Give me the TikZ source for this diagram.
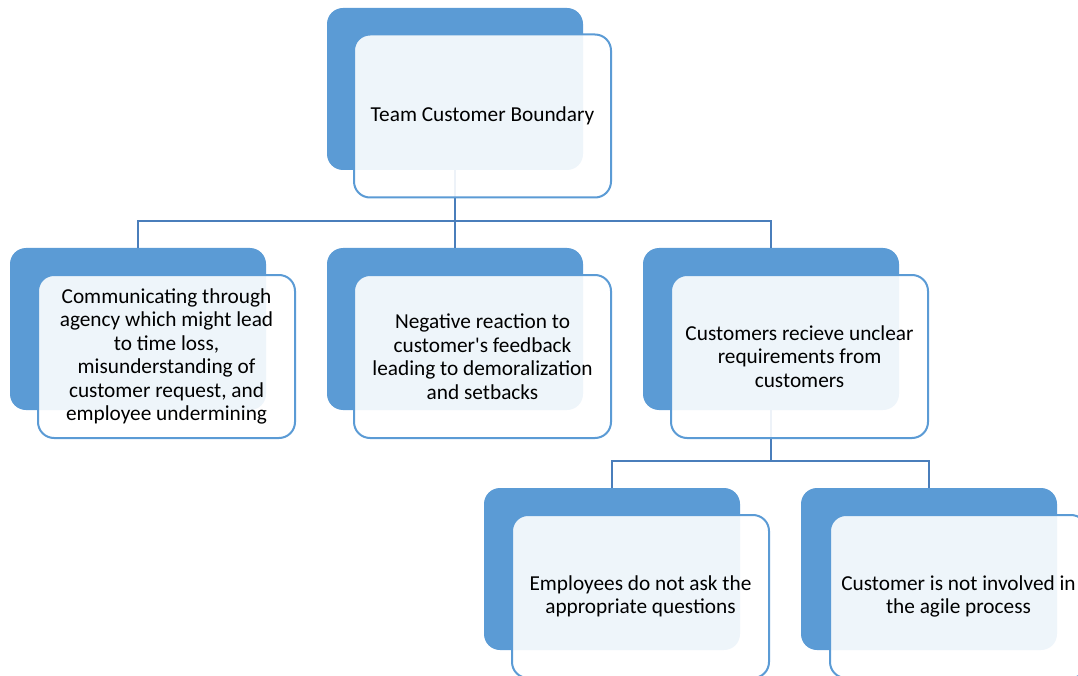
\documentclass[tikz,border=0pt]{standalone}
\usepackage{fontspec}
\setmainfont{Carlito}[Ligatures=TeXOff]
\definecolor{accent}{HTML}{5B9BD5}
\definecolor{connc}{HTML}{4A7EBB}
\begin{document}
\begin{tikzpicture}[x=1pt,y=-1pt,
  darkbox/.style={draw=none, fill=accent, rounded corners=16pt, minimum width=256pt, minimum height=162pt, inner sep=0pt},
  lightbox/.style={draw=accent, line width=2pt, fill=white, fill opacity=0.9, text opacity=1, rounded corners=16pt, minimum width=257pt, minimum height=163pt, align=center, font=\fontsize{21.3}{23.5}\selectfont, text=black},
  connector/.style={draw=connc, line width=2.2pt}]
\useasboundingbox (0,0) rectangle (1078,676);
\clip (0,0) rectangle (1078,676);
% dark back boxes
\node[darkbox] (d0) at (455,89) {};
\node[darkbox] (d1) at (138,329) {};
\node[darkbox] (d2) at (455,329) {};
\node[darkbox] (d3) at (771,329) {};
\node[darkbox] (d4) at (612,569) {};
\node[darkbox] (d5) at (929,569) {};
% connectors
\coordinate (j0) at (455,221);
\coordinate (j1) at (771,461);
\draw[connector] (d0.south) -- (d2.north);
\draw[connector] (d1.north) |- (j0) -| (d3.north);
\draw[connector] (d3.south) -- (j1);
\draw[connector] (d4.north) |- (j1) -| (d5.north);
% light front boxes
\node[lightbox] (l0) at (482.5,116) {Team Customer Boundary};
\node[lightbox] (l1) at (166.5,356.5) {Communicating through\\agency which might lead\\to time loss,\\misunderstanding of\\customer request, and\\employee undermining};
\node[lightbox] (l2) at (482.5,356.5) {Negative reaction to\\customer's feedback\\leading to demoralization\\and setbacks};
\node[lightbox] (l3) at (799.5,356.5) {Customers recieve unclear\\requirements from\\customers};
\node[lightbox] (l4) at (640.5,596.5) {Employees do not ask the\\appropriate questions};
\node[lightbox] (l5) at (958.5,596.5) {Customer is not involved in\\the agile process};
\end{tikzpicture}
\end{document}
